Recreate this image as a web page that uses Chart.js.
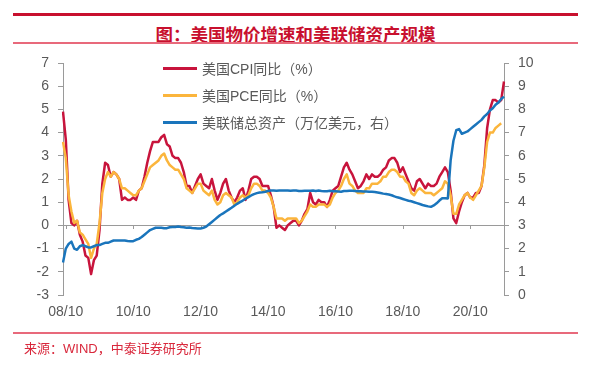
<!DOCTYPE html>
<html>
<head>
<meta charset="utf-8">
<script src="https://cdn.jsdelivr.net/npm/chart.js@4.4.1/dist/chart.umd.min.js"></script>
<style>
    html, body { margin: 0; padding: 0; background: #fff; }
    #wrap { position: relative; width: 614px; height: 366px; overflow: hidden; }
    #c { position: absolute; left: 0; top: 0; }
    .rule { position: absolute; left: 13px; width: 565px; }
    #title {
        position: absolute; left: 13px; width: 565px; top: 21px; height: 20px; line-height: 20px;
        text-align: center; color: #c8102e; font: bold 17.5px "Noto Sans CJK SC", sans-serif;
    }
    #source {
        position: absolute; left: 24px; top: 338px; height: 18px; line-height: 18px;
        color: #d9283c; font: 13px "Liberation Sans", "Noto Sans CJK SC", sans-serif;
    }
    #legend { position: absolute; left: 163px; top: 58px; }
    .lg-row { position: relative; height: 27px; }
    .lg-line { position: absolute; left: 0; top: 9px; width: 34px; height: 3px; }
    .lg-text {
        position: absolute; left: 39px; top: 0; height: 20px; line-height: 20px; white-space: nowrap;
        color: #595959; font: 14px "Liberation Sans", "Noto Sans CJK SC", sans-serif;
    }
</style>
</head>
<body>
<div id="wrap">
    <div class="rule" style="top:13px;height:3px;background:#c8102e;"></div>
    <div id="title">图：美国物价增速和美联储资产规模</div>
    <div class="rule" style="top:42px;height:2px;background:#e8697b;"></div>
    <canvas id="c" width="614" height="366"></canvas>
    <div id="legend"></div>
    <div class="rule" style="top:332px;height:2px;background:#e8697b;"></div>
    <div id="source">来源：WIND，中泰证券研究所</div>
</div>
<script>
// 月度数据：2008/09 至 2021/10
const startYear = 2008, startMonth = 9, monthCount = 158;
const months = [];
for (let i = 0; i < monthCount; i++) {
    const m = startMonth - 1 + i;
    const yy = String((startYear + Math.floor(m / 12)) % 100).padStart(2, '0');
    const mm = String(m % 12 + 1).padStart(2, '0');
    months.push(yy + '/' + mm);
}

const xTickLabels = ['08/10', '10/10', '12/10', '14/10', '16/10', '18/10', '20/10'];

// 美国CPI同比（%）
const cpi = [
    4.9, 3.7, 1.1, 0.1,
    0.0, 0.2, -0.4, -0.7, -1.3, -1.4, -2.1, -1.5, -1.3, -0.2, 1.8, 2.7,
    2.6, 2.1, 2.3, 2.2, 2.0, 1.1, 1.2, 1.1, 1.1, 1.2, 1.1, 1.5,
    1.6, 2.1, 2.7, 3.2, 3.6, 3.6, 3.6, 3.8, 3.9, 3.5, 3.4, 3.0,
    2.9, 2.9, 2.7, 2.3, 1.7, 1.7, 1.4, 1.7, 2.0, 2.2, 1.8, 1.7,
    1.6, 2.0, 1.5, 1.1, 1.4, 1.8, 2.0, 1.5, 1.2, 1.0, 1.2, 1.5,
    1.6, 1.1, 1.5, 2.0, 2.1, 2.1, 2.0, 1.7, 1.7, 1.7, 1.3, 0.8,
    -0.1, 0.0, -0.1, -0.2, 0.0, 0.1, 0.2, 0.2, 0.0, 0.2, 0.5, 0.7,
    1.4, 1.0, 0.9, 1.1, 1.0, 1.0, 0.8, 1.1, 1.5, 1.6, 1.7, 2.1,
    2.5, 2.7, 2.4, 2.2, 1.9, 1.6, 1.7, 1.9, 2.2, 2.0, 2.2, 2.1,
    2.1, 2.2, 2.4, 2.5, 2.8, 2.9, 2.9, 2.7, 2.3, 2.5, 2.2, 1.9,
    1.6, 1.5, 1.9, 2.0, 1.8, 1.6, 1.8, 1.7, 1.7, 1.8, 2.1, 2.3,
    2.5, 2.3, 1.5, 0.3, 0.1, 0.6, 1.0, 1.3, 1.4, 1.2, 1.2, 1.4,
    1.4, 1.7, 2.6, 4.2, 5.0, 5.4, 5.4, 5.3, 5.4, 6.2
];

// 美国PCE同比（%），到 2021/09
const pce = [
    3.6, 2.9, 1.3, 0.6,
    0.1, 0.2, -0.3, -0.4, -0.6, -0.8, -1.4, -1.0, -0.8, 0.1, 1.4, 2.0,
    2.3, 2.1, 2.3, 2.2, 2.0, 1.6, 1.6, 1.5, 1.4, 1.3, 1.3, 1.5,
    1.6, 1.9, 2.2, 2.5, 2.6, 2.7, 2.8, 3.0, 3.1, 2.8, 2.6, 2.5,
    2.4, 2.4, 2.2, 2.0, 1.6, 1.5, 1.4, 1.6, 1.8, 1.8, 1.5, 1.4,
    1.3, 1.5, 1.1, 0.9, 1.0, 1.3, 1.4, 1.3, 1.2, 0.9, 1.0, 1.2,
    1.3, 1.2, 1.3, 1.6, 1.8, 1.8, 1.7, 1.5, 1.5, 1.4, 1.2, 0.8,
    0.3, 0.3, 0.3, 0.2, 0.3, 0.3, 0.3, 0.3, 0.1, 0.2, 0.4, 0.6,
    0.9, 0.8, 0.8, 0.9, 0.9, 0.9, 0.8, 0.9, 1.2, 1.4, 1.5, 1.7,
    2.0, 2.2, 1.8, 1.7, 1.5, 1.4, 1.4, 1.4, 1.6, 1.6, 1.8, 1.8,
    1.8, 1.9, 2.1, 2.1, 2.3, 2.4, 2.4, 2.3, 2.1, 2.1, 1.9, 1.8,
    1.4, 1.3, 1.5, 1.6, 1.5, 1.4, 1.4, 1.4, 1.3, 1.4, 1.5, 1.6,
    1.9, 1.8, 1.3, 0.5, 0.5, 0.9, 1.1, 1.3, 1.4, 1.2, 1.1, 1.3,
    1.5, 1.7, 2.5, 3.6, 4.0, 4.0, 4.2, 4.3, 4.4, null
];

// 美联储总资产（万亿美元，右轴）
const fedAssets = [
    1.4, 2.0, 2.2, 2.3,
    2.0, 1.95, 2.1, 2.15, 2.1, 2.05, 2.05, 2.1, 2.15, 2.15, 2.2, 2.25,
    2.25, 2.3, 2.35, 2.35, 2.35, 2.35, 2.35, 2.33, 2.32, 2.32, 2.38, 2.42,
    2.5, 2.6, 2.7, 2.8, 2.85, 2.9, 2.9, 2.9, 2.88, 2.88, 2.92, 2.93,
    2.93, 2.95, 2.93, 2.92, 2.9, 2.91, 2.89, 2.88, 2.87, 2.87, 2.9, 2.95,
    3.05, 3.15, 3.25, 3.35, 3.45, 3.52, 3.6, 3.68, 3.76, 3.85, 3.93, 4.0,
    4.07, 4.15, 4.22, 4.29, 4.35, 4.39, 4.42, 4.43, 4.45, 4.48, 4.5, 4.5,
    4.49, 4.5, 4.5, 4.5, 4.5, 4.49, 4.5, 4.5, 4.48, 4.48, 4.49, 4.49,
    4.49, 4.5, 4.48, 4.5, 4.48, 4.47, 4.47, 4.49, 4.47, 4.47, 4.46, 4.45,
    4.48, 4.48, 4.49, 4.49, 4.48, 4.47, 4.47, 4.46, 4.46, 4.45, 4.45, 4.44,
    4.42, 4.4, 4.37, 4.35, 4.33, 4.3, 4.25, 4.21, 4.18, 4.14, 4.1, 4.06,
    4.04, 4.0, 3.96, 3.92, 3.88, 3.85, 3.82, 3.8, 3.86, 3.95, 4.07, 4.17,
    4.17, 4.16, 5.8, 6.65, 7.1, 7.15, 6.95, 7.0, 7.05, 7.15, 7.25, 7.35,
    7.45, 7.55, 7.7, 7.8, 7.95, 8.05, 8.2, 8.3, 8.45, 8.55
];

const axisGray = '#9a9a9a';
const labelGray = '#595959';
const tickFont = { family: '"Liberation Sans", Arial, sans-serif', size: 14 };

// 零轴上的日期刻度线
const zeroTicks = {
    id: 'zeroTicks',
    beforeDatasetsDraw(chart) {
        const { ctx, scales } = chart;
        const y0 = scales.y.getPixelForValue(0);
        ctx.save();
        ctx.strokeStyle = axisGray;
        ctx.lineWidth = 1;
        xTickLabels.forEach(l => {
            const px = Math.round(scales.x.getPixelForValue(months.indexOf(l))) + 0.5;
            ctx.beginPath();
            ctx.moveTo(px, Math.round(y0));
            ctx.lineTo(px, Math.round(y0) + 4);
            ctx.stroke();
        });
        ctx.restore();
    }
};

const chart = new Chart(document.getElementById('c'), {
    type: 'line',
    data: {
        labels: months,
        datasets: [
            { label: '美国CPI同比（%）', data: cpi, borderColor: '#c8143c', yAxisID: 'y', order: 3 },
            { label: '美国PCE同比（%）', data: pce, borderColor: '#fbb53c', yAxisID: 'y', order: 2 },
            { label: '美联储总资产（万亿美元，右）', data: fedAssets, borderColor: '#1a75bc', yAxisID: 'y1', order: 1 }
        ]
    },
    options: {
        responsive: false,
        animation: false,
        layout: { padding: { top: 63, left: 0, right: 0, bottom: 0 } },
        elements: {
            point: { radius: 0 },
            line: { borderWidth: 2.5, tension: 0, borderJoinStyle: 'round' }
        },
        plugins: {
            legend: { display: false },
            tooltip: { enabled: false }
        },
        scales: {
            x: {
                type: 'category',
                offset: false,
                border: { display: false },
                grid: { display: false, drawTicks: false },
                ticks: {
                    autoSkip: false,
                    maxRotation: 0,
                    padding: 9,
                    color: labelGray,
                    font: tickFont,
                    callback: function (val) {
                        const l = this.getLabelForValue(val);
                        return xTickLabels.includes(l) ? l : null;
                    }
                },
                afterFit: s => { s.height = 71; }
            },
            y: {
                position: 'left',
                min: -3,
                max: 7,
                ticks: { stepSize: 1, color: labelGray, font: tickFont, padding: 9 },
                border: { display: true, color: axisGray },
                grid: {
                    color: c => (c.tick && c.tick.value === 0 ? axisGray : 'rgba(0,0,0,0)'),
                    tickColor: axisGray,
                    tickLength: 5
                },
                afterFit: s => { s.width = 63; }
            },
            y1: {
                position: 'right',
                min: 0,
                max: 10,
                ticks: { stepSize: 1, color: labelGray, font: tickFont, padding: 9 },
                border: { display: true, color: axisGray },
                grid: { drawOnChartArea: false, color: axisGray, tickLength: 5 },
                afterFit: s => { s.width = 110; }
            }
        }
    },
    plugins: [zeroTicks]
});

// 图例
const legend = document.getElementById('legend');
chart.data.datasets.forEach(ds => {
    const row = document.createElement('div');
    row.className = 'lg-row';
    row.innerHTML = '<div class="lg-line" style="background:' + ds.borderColor + '"></div>' +
        '<div class="lg-text">' + ds.label + '</div>';
    legend.appendChild(row);
});
</script>
</body>
</html>
